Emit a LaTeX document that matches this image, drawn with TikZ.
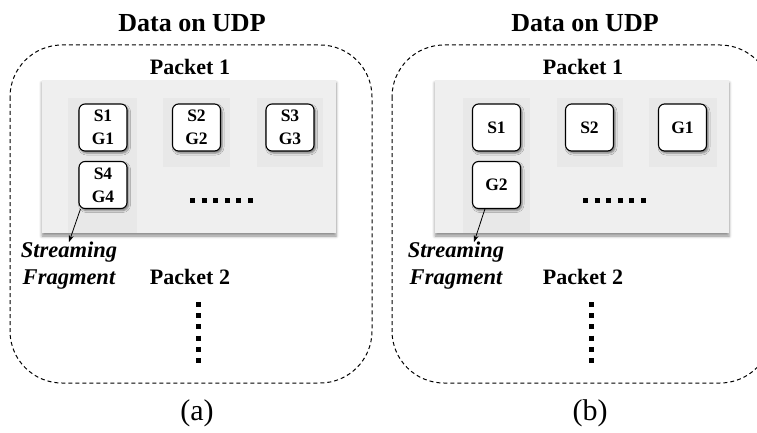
\documentclass[tikz,border=0pt]{standalone}
\usepackage{fontspec}
\setmainfont{Liberation Serif}
\usetikzlibrary{arrows.meta,shadows.blur}
\definecolor{panelgray}{HTML}{EFEFEF}
\definecolor{colgray}{HTML}{E8E8E8}
\tikzset{
  title/.style={font=\fontsize{26}{30}\selectfont\bfseries, inner sep=0pt},
  pkt/.style={font=\fontsize{22}{26}\selectfont\bfseries, inner sep=0pt},
  frag/.style={font=\fontsize{22.5}{27}\selectfont\bfseries\itshape, align=center, inner sep=0pt},
  caption/.style={font=\fontsize{30}{34}\selectfont, inner sep=0pt},
  outer/.style={draw, line width=1pt, dash pattern=on 4pt off 3pt, rounded corners=52pt},
  panel/.style={fill=panelgray, blur shadow={shadow xshift=0pt, shadow yshift=-3pt, shadow blur radius=3pt, shadow opacity=45}},
  column/.style={fill=colgray},
  seg/.style={draw, fill=white, line width=1.1pt, rounded corners=6pt,
    minimum width=48pt, minimum height=47pt, inner sep=0pt, align=center,
    font=\fontsize{17.5}{23}\selectfont\bfseries,
    blur shadow={shadow xshift=1.5pt, shadow yshift=-2pt, shadow blur radius=2pt, shadow opacity=50}},
  dotsrow/.style={line width=5pt, dash pattern=on 5pt off 6.6pt},
  ptr/.style={-{Stealth[length=7pt,width=5pt]}, line width=0.8pt},
}
\begin{document}
\begin{tikzpicture}[x=1pt,y=-1pt]
\useasboundingbox (0,0) rectangle (757,433);
\clip (0,0) rectangle (757,433);

% ---------- (a) ----------
\node[title] (a-title) at (192,23) {Data on UDP};
\draw[outer] (10,45) rectangle (372,383);
\node[pkt] (a-p1) at (190,67) {Packet 1};
\path[panel] (42,80) rectangle (336,233);
\path[column] (68,98) rectangle (137,233);
\path[column] (163,98) rectangle (230,167);
\path[column] (257,98) rectangle (323,167);
\node[seg] (a-s1) at (103,127.5) {S1\\G1};
\node[seg] (a-s2) at (196.5,127.5) {S2\\G2};
\node[seg] (a-s3) at (290,127.5) {S3\\G3};
\node[seg] (a-s4) at (103,185) {S4\\G4};
\draw[dotsrow] (190,200) -- (255,200);
\node[frag] (a-frag) at (69,266) {Streaming\\Fragment};
\draw[ptr] ([xshift=2pt]a-s4.south west) -- (a-frag.north);
\node[pkt] (a-p2) at (190,277) {Packet 2};
\draw[dotsrow, dash pattern=on 5pt off 6.2pt] (198,302) -- (198,366);
\node[caption] (a-cap) at (197,413) {(a)};

% ---------- (b) ----------
\draw[outer] (392,45) rectangle (772,383);
\begin{scope}[xshift=393pt]
\node[title] (b-title) at (192,23) {Data on UDP};
\node[pkt] (b-p1) at (190,67) {Packet 1};
\path[panel] (42,80) rectangle (336,233);
\path[column] (70,98) rectangle (137,233);
\path[column] (164,98) rectangle (230,167);
\path[column] (256,98) rectangle (324,167);
\node[seg] (b-s1) at (103.5,127.5) {S1};
\node[seg] (b-s2) at (196.5,127.5) {S2};
\node[seg] (b-g1) at (289.5,127.5) {G1};
\node[seg] (b-g2) at (103.5,185) {G2};
\draw[dotsrow] (190,200) -- (255,200);
\node[frag] (b-frag) at (63,266) {Streaming\\Fragment};
\draw[ptr] ([xshift=13pt]b-g2.south west) -- ([xshift=18pt]b-frag.north);
\node[pkt] (b-p2) at (190,277) {Packet 2};
\draw[dotsrow, dash pattern=on 5pt off 6.2pt] (198,302) -- (198,366);
\node[caption] (b-cap) at (197,413) {(b)};
\end{scope}
\end{tikzpicture}
\end{document}
